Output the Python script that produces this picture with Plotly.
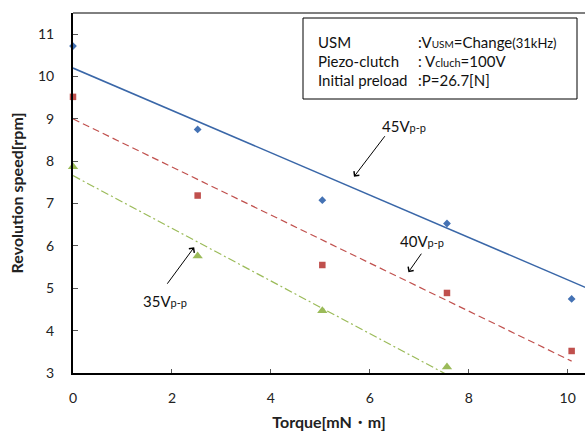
import plotly.graph_objects as go

# Data
torque = [0, 2.52, 5.04, 7.56, 10.08]
speed_45 = [10.72, 8.75, 7.08, 6.53, 4.75]
speed_40 = [9.52, 7.19, 5.55, 4.89, 3.52]
speed_35 = [7.87, 5.76, 4.47, 3.14]
torque_35 = [0, 2.52, 5.04, 7.56]

# Trendline endpoints
trend45_x = [0, 10.6]
trend45_y = [10.2, 4.9]
trend40_x = [0, 10.08]
trend40_y = [9.0, 3.28]
trend35_x = [0, 7.56]
trend35_y = [7.66, 2.96]

x_ticks = [0, 2, 4, 6, 8, 10]
y_ticks = [3, 4, 5, 6, 7, 8, 9, 10, 11]

BLUE = "#3A67A8"
RED = "#C0504D"
GREEN = "#9BBB59"
FONT = "Lato"

fig = go.Figure()

fig.add_trace(go.Scatter(x=trend45_x, y=trend45_y, mode="lines",
                         line=dict(color=BLUE, width=1.5), showlegend=False))
fig.add_trace(go.Scatter(x=trend40_x, y=trend40_y, mode="lines",
                         line=dict(color=RED, width=1.2, dash="7px,4px"), showlegend=False))
fig.add_trace(go.Scatter(x=trend35_x, y=trend35_y, mode="lines",
                         line=dict(color=GREEN, width=1.2, dash="8px,3px,2px,3px"), showlegend=False))

fig.add_trace(go.Scatter(x=torque, y=speed_45, mode="markers",
                         marker=dict(symbol="diamond", size=6, color="#4472B4"), showlegend=False, cliponaxis=False))
fig.add_trace(go.Scatter(x=torque, y=speed_40, mode="markers",
                         marker=dict(symbol="square", size=6.5, color=RED), showlegend=False, cliponaxis=False))
fig.add_trace(go.Scatter(x=torque_35, y=speed_35, mode="markers",
                         marker=dict(symbol="triangle-up", size=9, color=GREEN), showlegend=False, cliponaxis=False))

fig.update_layout(
    width=585, height=432,
    margin=dict(l=73, r=0, t=13, b=59),
    paper_bgcolor="white", plot_bgcolor="white",
    font=dict(family=FONT, size=14, color="#222"),
    xaxis=dict(range=[0, 10.35], tickvals=x_ticks, ticks="inside", ticklen=4,
               tickcolor="#555", showgrid=False, zeroline=False,
               showline=True, linecolor="black", linewidth=2,
               tickfont=dict(size=14),
               title=dict(text="<b>Torque[mN・m]</b>", font=dict(size=16, family=FONT), standoff=12),
               ticklabelstandoff=11),
    yaxis=dict(range=[3, 11.5], tickvals=y_ticks, ticks="inside", ticklen=5,
               tickcolor="#555", showgrid=False, zeroline=False,
               showline=True, linecolor="black", linewidth=2,
               tickfont=dict(size=14),
               title=dict(text="<b>Revolution speed[rpm]</b>", font=dict(size=16, family=FONT), standoff=10),
               ticklabelstandoff=14),
)

# top border of plot area
fig.add_shape(type="line", xref="paper", yref="paper", x0=0, x1=1, y0=1, y1=1,
              line=dict(color="black", width=1))

# info box
fig.add_shape(type="rect", xref="paper", yref="paper",
              x0=(303 - 73) / 512, x1=(577 - 73) / 512,
              y0=1 - (99 - 13) / 360, y1=1 - (18 - 13) / 360,
              line=dict(color="black", width=1), fillcolor="white")

box_rows = [
    ("USM", ":V<span style='font-size:10px'>USM</span>=Change<span style='font-size:13px'>(31kHz)</span>", 42),
    ("Piezo-clutch", ": V<span style='font-size:11px'>cluch</span>=100V", 61),
    ("Initial preload", ":P=26.7[N]", 80),
]
for left, right, ypx in box_rows:
    fig.add_annotation(xref="paper", yref="paper", x=(316 - 73) / 512, y=1 - (ypx - 13) / 360,
                       text=left, showarrow=False, xanchor="left", yanchor="middle",
                       font=dict(size=15, family=FONT, color="#111"))
    fig.add_annotation(xref="paper", yref="paper", x=(416 - 73) / 512, y=1 - (ypx - 13) / 360,
                       text=right, showarrow=False, xanchor="left", yanchor="middle",
                       font=dict(size=15, family=FONT, color="#111"))

# voltage labels with arrows
labels = [
    ("45V<span style='font-size:11px'>p-p</span>", 5.68, 7.635, 32, -42, 404, 126),
    ("40V<span style='font-size:11px'>p-p</span>", 6.78, 5.38, 14, -20, 422, 241),
    ("35V<span style='font-size:11px'>p-p</span>", 2.45, 5.97, -28, 38, 165, 301),
]
for txt, tx, ty, ax, ay, lx, ly in labels:
    fig.add_annotation(x=tx, y=ty, xref="x", yref="y", text="", showarrow=True,
                       ax=ax, ay=ay, arrowhead=4, arrowsize=1.3, arrowwidth=1, arrowcolor="black")
    fig.add_annotation(xref="paper", yref="paper", x=(lx - 73) / 512, y=1 - (ly - 13) / 360,
                       text=txt, showarrow=False, xanchor="center", yanchor="middle",
                       font=dict(size=15, family=FONT, color="#111"))

fig.write_html("out.html")
